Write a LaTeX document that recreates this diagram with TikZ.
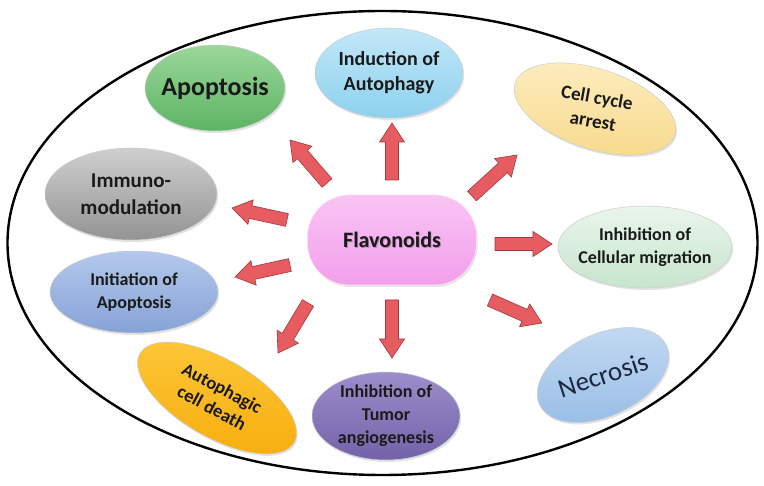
\documentclass[tikz,border=0pt]{standalone}
\usepackage{fontspec}
\setmainfont{Carlito}
\usetikzlibrary{shapes.geometric,calc,shadows}
\definecolor{arrowred}{HTML}{E65C60}
\definecolor{arrowdark}{HTML}{A2393C}
\definecolor{txt}{HTML}{1A1A1A}
\definecolor{apoT}{HTML}{9AD79A}\definecolor{apoB}{HTML}{5DB464}
\definecolor{autT}{HTML}{C2E7F8}\definecolor{autB}{HTML}{8DD1EE}
\definecolor{ccyT}{HTML}{FDEDC0}\definecolor{ccyB}{HTML}{F8DA8E}
\definecolor{immT}{HTML}{CFCFCF}\definecolor{immB}{HTML}{939393}
\definecolor{migT}{HTML}{EAF5EC}\definecolor{migB}{HTML}{C7E5CD}
\definecolor{iniT}{HTML}{B3C8EC}\definecolor{iniB}{HTML}{86A2D6}
\definecolor{necT}{HTML}{C4DAF2}\definecolor{necB}{HTML}{98BDE6}
\definecolor{acdT}{HTML}{FDC73A}\definecolor{acdB}{HTML}{F7AD0C}
\definecolor{tumT}{HTML}{9C8DCB}\definecolor{tumB}{HTML}{7462A8}
\definecolor{flT}{HTML}{F9C4F4}\definecolor{flB}{HTML}{F29FEB}
\definecolor{necTxt}{HTML}{1D2740}
\newcommand{\fatarrow}[2]{%
  \path coordinate (nk) at ($(#2)!19pt!(#1)$);
  \draw[fatarr] ($(#1)!6.5pt!90:(#2)$) -- ($(nk)!6.5pt!90:(#2)$) -- ($(nk)!12.5pt!90:(#2)$) -- (#2)
     -- ($(nk)!12.5pt!-90:(#2)$) -- ($(nk)!6.5pt!-90:(#2)$) -- ($(#1)!6.5pt!-90:(#2)$) -- cycle;}
\begin{document}
\begin{tikzpicture}[x=1pt,y=-1pt,
  bubble/.style={ellipse, inner sep=0pt, draw=white!80!black, line width=0.5pt,
     drop shadow={opacity=0.22,shadow xshift=1.2pt,shadow yshift=-2pt}},
  lbl/.style={font=\bfseries\fontsize{18}{23}\selectfont, align=center, text=txt},
  fatarr/.style={fill=arrowred, draw=arrowdark, line width=0.6pt, line join=miter},
]
\useasboundingbox (0,0) rectangle (764,486);
\fill[white] (0,0) rectangle (764,486);
% outer ellipse
\draw[line width=2.4pt] (382.5,243) ellipse [x radius=375, y radius=232];

% central node
\node[draw=white!70!flB, line width=0.6pt, rounded corners=42pt,
      top color=flT, bottom color=flB,
      minimum width=169pt, minimum height=90pt, inner sep=0pt,
      drop shadow={opacity=0.2,shadow xshift=1.2pt,shadow yshift=-2pt}] (fl) at (392,240) {};
\node[font=\bfseries\fontsize{22}{26}\selectfont, text=black!60, opacity=0.45] at ([xshift=0.9pt,yshift=-1.3pt]fl) {Flavonoids};
\node[font=\bfseries\fontsize{22}{26}\selectfont, text=txt] at (fl) {Flavonoids};

% surrounding bubbles
\node[bubble, top color=apoT, bottom color=apoB,
      minimum width=140pt, minimum height=86pt] (apo) at (215,88) {};
\node[lbl, font=\bfseries\fontsize{26}{30}\selectfont] at (apo) {Apoptosis};

\node[bubble, top color=autT, bottom color=autB,
      minimum width=148pt, minimum height=90pt] (aut) at (389,73) {};
\node[lbl, font=\bfseries\fontsize{20}{25}\selectfont] at (aut) {Induction of\\Autophagy};

\node[bubble, rotate=-18, top color=ccyT, bottom color=ccyB,
      minimum width=168pt, minimum height=80pt] (ccy) at (595,109) {};
\node[lbl, rotate=-10, font=\bfseries\fontsize{19}{24}\selectfont] at (ccy) {Cell cycle\\arrest};

\node[bubble, top color=immT, bottom color=immB,
      minimum width=172pt, minimum height=92pt] (imm) at (131,194) {};
\node[lbl, font=\bfseries\fontsize{21}{27}\selectfont] at (imm) {Immuno-\\modulation};

\node[bubble, top color=migT, bottom color=migB,
      minimum width=174pt, minimum height=82pt] (mig) at (645,247) {};
\node[lbl] at (mig) {Inhibition of\\Cellular migration};

\node[bubble, top color=iniT, bottom color=iniB,
      minimum width=168pt, minimum height=82pt] (ini) at (134,292) {};
\node[lbl] at (ini) {Initiation of\\Apoptosis};

\node[bubble, rotate=25, top color=necT, bottom color=necB,
      minimum width=140pt, minimum height=82pt] (nec) at (603,375) {};
\node[lbl, rotate=18, font=\fontsize{27}{30}\selectfont, text=necTxt] at (nec) {Necrosis};

\node[bubble, rotate=-30, top color=acdT, bottom color=acdB,
      minimum width=178pt, minimum height=78pt] (acd) at (217,398) {};
\node[lbl, rotate=-28, font=\bfseries\fontsize{18.5}{22}\selectfont] at (acd) {Autophagic\\cell death};

\node[bubble, top color=tumT, bottom color=tumB,
      minimum width=148pt, minimum height=88pt] (tum) at (386,416) {};
\node[lbl] at (tum) {Inhibition of\\Tumor\\angiogenesis};

% arrows
\coordinate (t1) at (392,180); \coordinate (h1) at (392,123);
\coordinate (t2) at (327,183); \coordinate (h2) at (290,140);
\coordinate (t3) at (472,196); \coordinate (h3) at (517,155);
\coordinate (t4) at (287,220); \coordinate (h4) at (232,208);
\coordinate (t5) at (290,265); \coordinate (h5) at (235,277);
\coordinate (t6) at (308,303); \coordinate (h6) at (278,353);
\coordinate (t7) at (392,300); \coordinate (h7) at (392,358);
\coordinate (t8) at (495,244); \coordinate (h8) at (552,244);
\coordinate (t9) at (490,300); \coordinate (h9) at (542,323);
\fatarrow{t1}{h1}
\fatarrow{t2}{h2}
\fatarrow{t3}{h3}
\fatarrow{t4}{h4}
\fatarrow{t5}{h5}
\fatarrow{t6}{h6}
\fatarrow{t7}{h7}
\fatarrow{t8}{h8}
\fatarrow{t9}{h9}
\end{tikzpicture}
\end{document}
